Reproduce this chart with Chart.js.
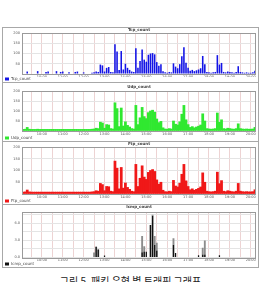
<!DOCTYPE html>
<html>
<head>
<meta charset="utf-8">
<script src="https://cdn.jsdelivr.net/npm/chart.js@4.4.0/dist/chart.umd.min.js"></script>
<style>
  html, body { margin: 0; padding: 0; background: #fff; }
  body { width: 261px; height: 282px; position: relative; overflow: hidden; }
  .panel { position: absolute; left: 2px; width: 255px; border: 1px solid #a8a8a8; background: #fff; }
  .panel canvas { display: block; }
  #caption { position: absolute; left: 0; width: 261px; top: 276px; text-align: center;
             font-family: "Noto Sans CJK KR"; font-size: 10px; line-height: 1; color: #222; }
</style>
</head>
<body>
<div class="panel" style="top:27px"><canvas id="tcpChart" width="255" height="54"></canvas></div>
<div class="panel" style="top:82px"><canvas id="udpChart" width="255" height="58"></canvas></div>
<div class="panel" style="top:141px"><canvas id="ftpChart" width="255" height="62"></canvas></div>
<div class="panel" style="top:204px"><canvas id="icmpChart" width="255" height="62"></canvas></div>
<div id="caption">그림 5. 패킷 유형 별 트래픽 그래프</div>
<script>
// x axis tick labels (one every 10 samples)
var tickLabels = ["10:00", "11:00", "12:00", "13:00", "14:00", "15:00", "16:00", "17:00", "18:00", "19:00", "20:00"];

var tcpCount = [
    0, 0, 12, 0, 0, 0, 0, 14, 0, 0,
    0, 10, 12, 0, 0, 0, 14, 0, 10, 12,
    0, 0, 8, 0, 0, 10, 12, 0, 0, 8,
    0, 0, 0, 6, 8, 12, 10, 46, 42, 12,
    30, 34, 10, 8, 145, 110, 20, 112, 22, 50,
    30, 20, 12, 10, 126, 30, 64, 120, 70, 60,
    94, 100, 102, 96, 58, 40, 48, 14, 8, 6,
    10, 8, 52, 36, 28, 48, 86, 130, 55, 30,
    16, 20, 14, 18, 22, 28, 88, 48, 10, 8,
    6, 8, 10, 92, 46, 54, 10, 8, 12, 10,
    8, 6, 10, 38, 10, 8, 6, 8, 6, 6, 8, 16
];

var udpCount = [
    8, 9, 18, 9, 8, 8, 8, 9, 8, 8,
    8, 8, 8, 8, 8, 8, 8, 8, 8, 8,
    8, 8, 8, 8, 8, 8, 8, 8, 8, 8,
    8, 8, 8, 9, 10, 14, 12, 44, 40, 14,
    32, 30, 12, 10, 141, 112, 22, 115, 25, 46,
    28, 20, 12, 10, 128, 32, 66, 118, 72, 62,
    92, 100, 104, 94, 60, 42, 48, 16, 10, 9,
    12, 10, 50, 34, 30, 46, 84, 128, 56, 32,
    18, 22, 16, 20, 24, 30, 86, 50, 12, 10,
    9, 10, 12, 90, 44, 56, 12, 10, 14, 12,
    10, 9, 12, 36, 12, 10, 9, 10, 9, 9, 10, 18
];

var ftpCount = [
    8, 9, 17, 9, 8, 8, 8, 8, 8, 8,
    8, 8, 8, 8, 8, 8, 8, 8, 8, 8,
    8, 8, 8, 8, 8, 8, 8, 8, 8, 8,
    8, 8, 8, 9, 10, 14, 12, 45, 40, 14,
    32, 31, 12, 10, 140, 110, 22, 113, 25, 47,
    28, 20, 12, 10, 126, 32, 67, 120, 72, 62,
    92, 100, 104, 96, 60, 42, 50, 16, 10, 9,
    12, 10, 58, 34, 30, 46, 84, 126, 56, 32,
    18, 22, 16, 20, 24, 30, 90, 50, 12, 10,
    9, 10, 12, 93, 44, 57, 12, 10, 14, 12,
    10, 9, 12, 45, 12, 10, 9, 10, 9, 9, 10, 18
];

var icmpCount = [
    0, 0, 0, 0, 0, 0, 0, 0, 0, 0,
    0, 0, 0, 0, 0, 0, 0, 0, 0, 0,
    0, 0, 0, 0, 0, 0, 0, 0, 0, 0,
    0, 0, 0, 0, 0, 1.9, 1.4, 0, 0, 0.35,
    0, 0, 0, 0, 0, 0, 0, 0, 0, 0,
    0, 0, 0, 0, 0, 0, 0, 0.9, 1.0, 1.0,
    0, 5.7, 7.3, 2.2, 1.2, 0, 0, 0, 0, 0,
    0, 0, 2.2, 0.8, 0, 0, 0, 0, 0, 0,
    0, 0, 0, 0, 0.4, 0, 0.5, 0.5, 0, 0,
    0, 0, 0, 0, 0.4, 0, 0, 0, 0, 0,
    0, 0, 0, 0, 0, 0, 0, 0, 0, 0, 0, 0
];

var icmpShade = [
    0, 0, 0, 0, 0, 0, 0, 0, 0, 0,
    0, 0, 0, 0, 0, 0, 0, 0, 0, 0,
    0, 0, 0, 0, 0, 0, 0, 0, 0, 0,
    0, 0, 0, 0, 0.9, 1.9, 1.4, 0, 0, 0,
    0, 0, 0, 0, 0, 0, 0, 0, 0, 0,
    0, 0, 0, 0, 0, 0, 0, 3.8, 2.0, 0,
    0, 5.7, 7.5, 3.8, 2.6, 0, 0, 0, 0, 0,
    0, 0, 3.4, 0, 0, 0, 0, 0, 0, 0,
    0, 0, 0, 0, 0, 0, 1.7, 3.0, 0, 0,
    0, 0, 0, 0, 0, 0, 0, 0, 0, 0,
    0, 0, 0, 0, 0, 0, 0, 0, 0, 0, 0, 0
];

var categories = tcpCount.map(function (v, i) { return i; });

//draws a grey frame round the plot area
var plotBorder = {
    id: "plotBorder",
    afterDraw: function (chart) {
        var a = chart.chartArea, ctx = chart.ctx;
        ctx.save();
        ctx.strokeStyle = "#9a9a9a";
        ctx.lineWidth = 1;
        ctx.strokeRect(Math.round(a.left) + 0.5, Math.round(a.top) + 0.5,
            Math.round(a.right - a.left) - 1, Math.round(a.bottom - a.top));
        ctx.restore();
    }
};

function makeChart(id, title, datasets, yOpts, lay) {
    return new Chart(document.getElementById(id), {
        type: "bar",
        data: { labels: categories, datasets: datasets },
        options: {
            responsive: false,
            animation: false,
            devicePixelRatio: 1,
            layout: { padding: { left: 2, right: 2, top: 0, bottom: 0 } },
            plugins: {
                title: {
                    display: true,
                    text: title,
                    fullSize: false,
                    color: "#444",
                    font: { family: "DejaVu Sans", size: 4, lineHeight: 1 },
                    padding: { top: lay.titleTop, bottom: lay.titleBottom }
                },
                legend: {
                    display: true,
                    position: "bottom",
                    align: "start",
                    maxHeight: 5,
                    labels: {
                        boxWidth: 4,
                        boxHeight: 3,
                        padding: 0,
                        color: "#444",
                        font: { family: "DejaVu Sans", size: 4 },
                        filter: function (item) { return item.datasetIndex === 0; }
                    }
                },
                tooltip: { enabled: false }
            },
            scales: {
                x: {
                    offset: true,
                    border: { display: false },
                    grid: {
                        offset: false,
                        drawTicks: false,
                        color: function (c) { return c.index % 5 === 4 ? "#edd3d3" : "rgba(0,0,0,0)"; }
                    },
                    ticks: {
                        autoSkip: false,
                        maxRotation: 0,
                        padding: 0.5,
                        color: "#555",
                        font: { family: "DejaVu Sans", size: 3.5 },
                        callback: function (v, i) { return i % 10 === 9 ? tickLabels[(i - 9) / 10] : ""; }
                    },
                    afterFit: function (s) { s.height = lay.xHeight; }
                },
                y: {
                    min: 0,
                    max: yOpts.max,
                    border: { display: false },
                    grid: { drawTicks: false, color: "#e4e4e4" },
                    ticks: {
                        stepSize: yOpts.step,
                        padding: 2,
                        color: "#555",
                        font: { family: "DejaVu Sans", size: 3.5 },
                        callback: yOpts.label
                    },
                    afterFit: function (s) { s.width = 17; }
                }
            }
        },
        plugins: [plotBorder]
    });
}

function countLabel(v) { return (v % 50 === 0 && v > 0) ? v : ""; }

makeChart("tcpChart", "Tcp_count", [{
    label: "Tcp_count", data: tcpCount, backgroundColor: "#1414e6",
    barPercentage: 0.75, categoryPercentage: 1, borderWidth: 0
}], { max: 200, step: 25, label: countLabel }, { titleTop: 0, titleBottom: 1, xHeight: 3 });

makeChart("udpChart", "Udp_count", [{
    label: "Udp_count", data: udpCount, backgroundColor: "#30e830",
    barPercentage: 1, categoryPercentage: 1, borderWidth: 0
}], { max: 200, step: 25, label: countLabel }, { titleTop: 2, titleBottom: 2, xHeight: 5 });

makeChart("ftpChart", "Ftp_count", [{
    label: "Ftp_count", data: ftpCount, backgroundColor: "#f01818",
    barPercentage: 1, categoryPercentage: 1, borderWidth: 0
}], { max: 200, step: 25, label: countLabel }, { titleTop: 0, titleBottom: 1, xHeight: 5 });

makeChart("icmpChart", "Icmp_count", [{
    label: "Icmp_count", data: icmpCount, backgroundColor: "#111111",
    barPercentage: 0.6, categoryPercentage: 1, borderWidth: 0, grouped: false
}, {
    label: "Icmp_count", data: icmpShade, backgroundColor: "#8c8c8c",
    barPercentage: 0.9, categoryPercentage: 1, borderWidth: 0, grouped: false
}], {
    max: 8, step: 0.5,
    label: function (v) { return v % 1 === 0 ? v.toFixed(1) : ""; }
}, { titleTop: 0, titleBottom: 3, xHeight: 4.5 });
</script>
</body>
</html>
